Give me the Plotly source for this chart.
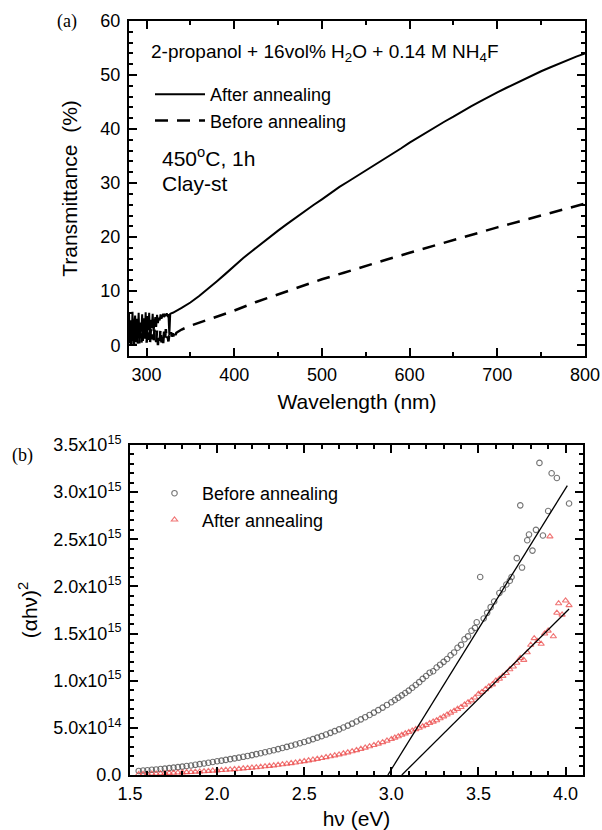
import plotly.graph_objects as go

# ---------------- Panel (a): transmittance ----------------
wl_after = list(range(280, 330)) + list(range(330, 801, 10))
t_after = [5.8, 0.4, 4.6, 1.2, 6.2, 0.1, 3.8, 5.5, 0.6, 4.9,
           1.8, 6.0, 0.3, 4.2, 2.5, 5.7, 0.8, 5.0, 2.0, 6.1,
           1.2, 5.4, 2.8, 6.0, 1.6, 4.7, 3.2, 5.8, 2.6, 4.4,
           5.2, 3.4, 5.6, 4.1, 5.1, 4.6, 5.7, 4.9, 5.3, 5.8,
           5.2, 5.6, 5.4, 5.9, 5.5, 5.7, 1.9, 5.8, 5.9, 6.0,
           6.0, 6.9, 7.9, 9.1, 10.4, 11.8, 13.2, 14.7, 16.1, 17.4,
           18.7, 20.0, 21.2, 22.4, 23.6, 24.8, 25.9, 27.0, 28.2, 29.3,
           30.3, 31.3, 32.4, 33.4, 34.4, 35.4, 36.4, 37.5, 38.5, 39.5,
           40.5, 41.4, 42.3, 43.3, 44.2, 45.1, 46.0, 46.8, 47.6, 48.4,
           49.2, 50.0, 50.7, 51.4, 52.1, 52.8, 53.4, 54.0]

wl_before = list(range(280, 335)) + [335, 340] + list(range(350, 801, 25))
t_before = [1.0, 3.0, 0.2, 2.5, 0.8, 3.2, 0.0, 2.0, 1.2, 3.5,
            0.3, 2.8, 0.9, 3.0, 0.1, 2.2, 1.4, 3.4, 0.5, 2.6,
            0.2, 3.0, 1.0, 2.4, 0.4, 3.3, 1.1, 2.0, 0.3, 2.9,
            1.5, 0.6, 2.7, 0.0, 2.2, 0.8, 3.1, 0.5, 1.8, 0.4,
            2.5, 1.0, 3.0, 0.9, 1.6, 0.7, 2.0, 1.3, 2.4, 1.6,
            2.2, 1.5, 2.6, 1.9, 2.3,
            2.4, 2.9,
            3.6, 5.0, 6.4, 8.0, 9.4, 10.8, 12.2, 13.4, 14.7, 15.9,
            17.1, 18.3, 19.5, 20.7, 21.8, 22.9, 24.0, 25.1, 26.2]

# ---------------- Panel (b): (alpha h nu)^2 vs h nu ----------------
e_smooth = [1.55 + 0.025 * i for i in range(59)]
e_before = e_smooth + [3.02, 3.04, 3.06, 3.08, 3.10, 3.12, 3.14, 3.16, 3.18, 3.20,
                       3.22, 3.24, 3.26, 3.28, 3.30, 3.32, 3.34, 3.36, 3.38, 3.40,
                       3.42, 3.44, 3.46, 3.48, 3.49, 3.51, 3.53, 3.55, 3.57, 3.59,
                       3.62, 3.64, 3.66, 3.68, 3.69, 3.72, 3.74, 3.75, 3.78, 3.79,
                       3.81, 3.83, 3.85, 3.87, 3.90, 3.92, 3.95, 4.02]
v_before = [0.043, 0.047, 0.051, 0.055, 0.059, 0.063, 0.068, 0.073, 0.078, 0.083,
            0.089, 0.095, 0.101, 0.108, 0.115, 0.122, 0.130, 0.138, 0.146, 0.152,
            0.160, 0.168, 0.176, 0.184, 0.193, 0.202, 0.211, 0.221, 0.231, 0.241,
            0.252, 0.263, 0.274, 0.286, 0.298, 0.311, 0.324, 0.337, 0.350, 0.365,
            0.380, 0.396, 0.412, 0.429, 0.447, 0.465, 0.484, 0.504, 0.524, 0.545,
            0.567, 0.590, 0.613, 0.637, 0.662, 0.688, 0.715, 0.743, 0.772,
            0.795, 0.82, 0.845, 0.87, 0.895, 0.925, 0.955, 0.985, 1.02, 1.05,
            1.085, 1.10, 1.14, 1.17, 1.20, 1.23, 1.27, 1.30, 1.35, 1.38,
            1.44, 1.47, 1.53, 1.56, 1.62, 2.10, 1.66, 1.72, 1.78, 1.84,
            1.93, 1.97, 2.02, 2.06, 2.10, 2.30, 2.86, 2.20, 2.49, 2.55,
            2.38, 2.60, 3.31, 2.54, 2.80, 3.20, 3.15, 2.88]

e_after = e_smooth + [3.02, 3.04, 3.06, 3.08, 3.10, 3.12, 3.14, 3.16, 3.18, 3.20,
                      3.22, 3.24, 3.26, 3.28, 3.30, 3.32, 3.34, 3.36, 3.38, 3.40,
                      3.42, 3.44, 3.46, 3.48, 3.50, 3.52, 3.54, 3.56, 3.58, 3.60,
                      3.62, 3.64, 3.66, 3.68, 3.70, 3.72, 3.74, 3.76, 3.78, 3.80,
                      3.82, 3.84, 3.86, 3.88, 3.90, 3.91, 3.93, 3.95, 3.96, 3.98,
                      4.00, 4.02]
v_after = [0.010, 0.011, 0.012, 0.014, 0.015, 0.017, 0.019, 0.021, 0.023, 0.025,
           0.027, 0.029, 0.031, 0.034, 0.036, 0.039, 0.042, 0.045, 0.048, 0.051,
           0.054, 0.058, 0.061, 0.065, 0.069, 0.073, 0.077, 0.081, 0.086, 0.091,
           0.096, 0.101, 0.107, 0.113, 0.119, 0.125, 0.132, 0.139, 0.146, 0.154,
           0.162, 0.170, 0.179, 0.188, 0.197, 0.207, 0.217, 0.228, 0.239, 0.251,
           0.263, 0.276, 0.289, 0.303, 0.317, 0.332, 0.347, 0.363, 0.380,
           0.395, 0.41, 0.425, 0.44, 0.455, 0.47, 0.485, 0.50, 0.515, 0.53,
           0.55, 0.565, 0.58, 0.60, 0.62, 0.64, 0.66, 0.68, 0.70, 0.72,
           0.745, 0.77, 0.79, 0.82, 0.86, 0.88, 0.91, 0.94, 0.96, 1.00,
           1.02, 1.05, 1.08, 1.12, 1.15, 1.19, 1.24, 1.22, 1.30, 1.38,
           1.45, 1.42, 1.39, 1.50, 1.53, 2.53, 1.47, 1.72, 1.82, 1.70,
           1.85, 1.80]

SCALE = 1e15
fit_before_x = [2.98, 4.01]
fit_before_y = [0.0, 3.07]
fit_after_x = [3.06, 4.02]
fit_after_y = [0.0, 1.76]

b_yticks = [0, 0.5, 1.0, 1.5, 2.0, 2.5, 3.0, 3.5]
b_yticklabels = ["0.0", "5.0x10<sup>14</sup>", "1.0x10<sup>15</sup>", "1.5x10<sup>15</sup>",
                 "2.0x10<sup>15</sup>", "2.5x10<sup>15</sup>", "3.0x10<sup>15</sup>",
                 "3.5x10<sup>15</sup>"]

FONT = "Liberation Sans, Arial, sans-serif"
SERIF = "Liberation Serif, Times New Roman, serif"

fig = go.Figure()
fig.add_trace(go.Scatter(x=wl_after, y=t_after, mode="lines", name="After annealing",
                         line=dict(color="black", width=2), xaxis="x", yaxis="y",
                         legend="legend"))
fig.add_trace(go.Scatter(x=wl_before, y=t_before, mode="lines", name="Before annealing",
                         line=dict(color="black", width=2.5, dash="13px,9px"),
                         xaxis="x", yaxis="y", legend="legend"))

fig.add_trace(go.Scatter(x=e_before, y=[v * SCALE for v in v_before], mode="markers",
                         name="Before annealing",
                         marker=dict(symbol="circle-open", size=5.5,
                                     color="rgba(70,70,70,0.75)", line=dict(width=1.1)),
                         xaxis="x2", yaxis="y2", legend="legend2"))
fig.add_trace(go.Scatter(x=e_after, y=[v * SCALE for v in v_after], mode="markers",
                         name="After annealing",
                         marker=dict(symbol="triangle-up-open", size=5.5,
                                     color="rgba(235,70,70,0.75)", line=dict(width=1.1)),
                         xaxis="x2", yaxis="y2", legend="legend2"))
fig.add_trace(go.Scatter(x=fit_before_x, y=[v * SCALE for v in fit_before_y], mode="lines",
                         line=dict(color="black", width=1.3), showlegend=False,
                         xaxis="x2", yaxis="y2"))
fig.add_trace(go.Scatter(x=fit_after_x, y=[v * SCALE for v in fit_after_y], mode="lines",
                         line=dict(color="black", width=1.3), showlegend=False,
                         xaxis="x2", yaxis="y2"))

W, H = 602, 830
ML, MT = 129, 21
MR = W - 585
MB = H - 775
PW, PH = W - ML - MR, H - MT - MB


def px(x):
    return (x - ML) / PW


def py(y):
    return (H - MB - y) / PH


axis_common = dict(showline=True, linecolor="black", linewidth=2, mirror="allticks",
                   ticks="inside", ticklen=8, tickwidth=1.5, tickcolor="black",
                   showgrid=False, zeroline=False, automargin=False,
                   tickfont=dict(family=FONT, size=18, color="black"))


def note(text, x, y, size, family=FONT, xanchor="left"):
    return dict(text=text, x=px(x), y=py(y), xref="paper", yref="paper",
                xanchor=xanchor, yanchor="middle", showarrow=False,
                font=dict(family=family, size=size, color="black"))


fig.update_layout(
    width=W, height=H,
    margin=dict(l=ML, r=MR, t=MT, b=MB),
    paper_bgcolor="white", plot_bgcolor="white",
    font=dict(family=FONT, color="black"),
    xaxis=dict(domain=[px(129), px(585)], anchor="y", range=[280, 800],
               tick0=300, dtick=100, ticklabelstandoff=1,
               minor=dict(ticks="inside", ticklen=4, tickwidth=1.5, dtick=50, tickcolor="black"),
               title=dict(text="Wavelength (nm)", font=dict(size=21), standoff=11),
               **axis_common),
    yaxis=dict(domain=[py(356), py(21)], anchor="x", range=[-2, 60],
               tick0=0, dtick=10, ticklabelstandoff=3,
               minor=dict(ticks="inside", ticklen=4, tickwidth=1.5, dtick=2, tickcolor="black"),
               title=dict(text="Transmittance  (%)", font=dict(size=21), standoff=17),
               **axis_common),
    xaxis2=dict(domain=[px(130), px(583)], anchor="y2", range=[1.5, 4.1],
                tick0=1.5, dtick=0.5, tickformat=".1f", ticklabelstandoff=1,
                minor=dict(ticks="inside", ticklen=4, tickwidth=1.5, dtick=0.1, tickcolor="black"),
                title=dict(text="hν (eV)", font=dict(size=21), standoff=11),
                **axis_common),
    yaxis2=dict(domain=[py(775), py(445)], anchor="x2", range=[0, 3.5e15],
                tickvals=[v * SCALE for v in b_yticks], ticktext=b_yticklabels,
                ticklabelstandoff=3,
                minor=dict(ticks="inside", ticklen=4, tickwidth=1.5, dtick=1e14, tickcolor="black"),
                title=dict(text="(αhν)<sup>2</sup>", font=dict(size=21), standoff=10),
                **axis_common),
    legend=dict(x=px(150), y=py(76), xanchor="left", yanchor="top",
                bgcolor="rgba(0,0,0,0)", font=dict(family=FONT, size=18),
                tracegroupgap=0, itemwidth=50),
    legend2=dict(x=px(147), y=py(475), xanchor="left", yanchor="top",
                 bgcolor="rgba(0,0,0,0)", font=dict(family=FONT, size=18),
                 tracegroupgap=0, itemwidth=45),
    annotations=[
        note("(a)", 67, 22, 18, SERIF, "center"),
        note("(b)", 22, 456, 18, SERIF, "center"),
        note("2-propanol + 16vol% H<sub>2</sub>O + 0.14 M NH<sub>4</sub>F", 149, 53, 19),
        note("450<sup>o</sup>C, 1h", 160, 157, 21),
        note("Clay-st", 160, 183, 21),
    ],
)

# Remove the page's default body margin so the figure sits at the window's corner.
fig.write_html("out.html", config={"displayModeBar": False},
               post_script="document.body.style.margin='0';document.body.style.overflow='hidden';")
